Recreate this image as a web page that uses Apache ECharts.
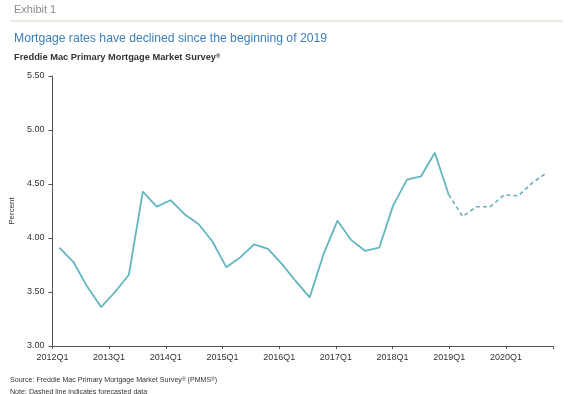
<!DOCTYPE html>
<html>
<head>
<meta charset="utf-8">
<script src="https://cdn.jsdelivr.net/npm/echarts@6/dist/echarts.min.js"></script>
<style>
html,body{margin:0;padding:0;background:#fff;}
#chart{width:576px;height:394px;}
</style>
</head>
<body>
<div id="chart"></div>
<script>
// Quarters 2012Q1 .. 2020Q4
var quarters = [];
for (var y = 2012; y <= 2020; y++) { for (var q = 1; q <= 4; q++) { quarters.push(y + 'Q' + q); } }

// Actual rates (solid), 2012Q1 .. 2019Q1
var actualRates = [3.91, 3.78, 3.55, 3.36, 3.50, 3.66, 4.43, 4.29, 4.35, 4.22, 4.13, 3.97,
                   3.73, 3.82, 3.94, 3.90, 3.76, 3.60, 3.45, 3.85, 4.16, 3.98, 3.88, 3.91,
                   4.30, 4.54, 4.57, 4.79, 4.40];
// Forecast rates (dashed), 2019Q1 .. 2020Q4
var forecastRates = [4.40, 4.20, 4.29, 4.29, 4.40, 4.39, 4.51, 4.60];
var forecastStart = 28;

var tickLabels = ['2012Q1', '2013Q1', '2014Q1', '2015Q1', '2016Q1', '2017Q1', '2018Q1', '2019Q1', '2020Q1'];
var yTicks = [3.00, 3.50, 4.00, 4.50, 5.00, 5.50];

var actualData = quarters.map(function (q, i) { return i < actualRates.length ? actualRates[i] : null; });
var forecastData = quarters.map(function (q, i) {
  var k = i - forecastStart;
  return (k >= 0 && k < forecastRates.length) ? forecastRates[k] : null;
});

var FONT = 'Liberation Sans, Arial, Helvetica, sans-serif';
var chart = echarts.init(document.getElementById('chart'));
chart.setOption({
  animation: false,
  backgroundColor: '#ffffff',
  textStyle: { fontFamily: FONT },
  grid: { left: 51, right: 23, top: 76, bottom: 48, containLabel: false },
  graphic: [
    { type: 'text', left: 14, top: 4, style: { text: 'Exhibit 1', fill: '#8a8a8a', font: '11px ' + FONT } },
    { type: 'line', shape: { x1: 10, y1: 21, x2: 563, y2: 21 }, style: { stroke: '#e6e2d6', lineWidth: 1.5 } },
    { type: 'text', left: 14, top: 33, style: { text: 'Mortgage rates have declined since the beginning of 2019', fill: '#3d7fb6', font: '12.2px ' + FONT } },
    { type: 'text', left: 14, top: 53, style: {
        text: 'Freddie Mac Primary Mortgage Market Survey{r|\u00AE}', fill: '#333333', font: 'bold 9.3px ' + FONT,
        rich: { r: { fontSize: 6, fontWeight: 'bold', verticalAlign: 'top', fill: '#333333', padding: [0, 0, 3, 0] } } } },
    { type: 'text', left: 10, top: 377, style: {
        text: 'Source: Freddie Mac Primary Mortgage Market Survey{r|\u00AE} (PMMS{r|\u00AE})', fill: '#333333', font: '7.1px ' + FONT,
        rich: { r: { fontSize: 5, verticalAlign: 'top', fill: '#333333', padding: [0, 0, 2, 0] } } } },
    { type: 'text', left: 10, top: 389, style: { text: 'Note: Dashed line indicates forecasted data', fill: '#333333', font: '7.1px ' + FONT } }
  ],
  xAxis: [
    {
      type: 'category', data: quarters, boundaryGap: true, show: false
    },
    {
      type: 'value', min: 0, max: 35.32, interval: 4, position: 'bottom',
      axisLine: { show: true, lineStyle: { color: '#555555', width: 1 } },
      axisTick: { show: true, length: 3, lineStyle: { color: '#555555' } },
      splitLine: { show: false },
      axisLabel: {
        color: '#333333', fontSize: 9, margin: 7, fontFamily: FONT,
        formatter: function (v) { var k = Math.round(v / 4); return (v % 4 === 0 && k < tickLabels.length) ? tickLabels[k] : ''; }
      }
    }
  ],
  yAxis: {
    type: 'value', min: yTicks[0], max: yTicks[yTicks.length - 1], interval: 0.5,
    name: 'Percent', nameLocation: 'middle', nameGap: 30,
    nameTextStyle: { color: '#333333', fontSize: 8, fontFamily: FONT },
    axisLine: { show: true, lineStyle: { color: '#555555', width: 1 } },
    axisTick: { show: true, length: 4, lineStyle: { color: '#555555' } },
    splitLine: { show: false },
    axisLabel: { color: '#333333', fontSize: 9, margin: 8, fontFamily: FONT, formatter: function (v) { return v.toFixed(2); } }
  },
  series: [
    {
      type: 'line', xAxisIndex: 0, data: actualData, showSymbol: false, connectNulls: false,
      lineStyle: { color: '#62b6c1', width: 1.8 }
    },
    {
      type: 'line', xAxisIndex: 0, data: forecastData, showSymbol: false, connectNulls: false,
      lineStyle: { color: '#6aaeb8', width: 1.6, type: [4, 3] }
    }
  ]
});
</script>
</body>
</html>
